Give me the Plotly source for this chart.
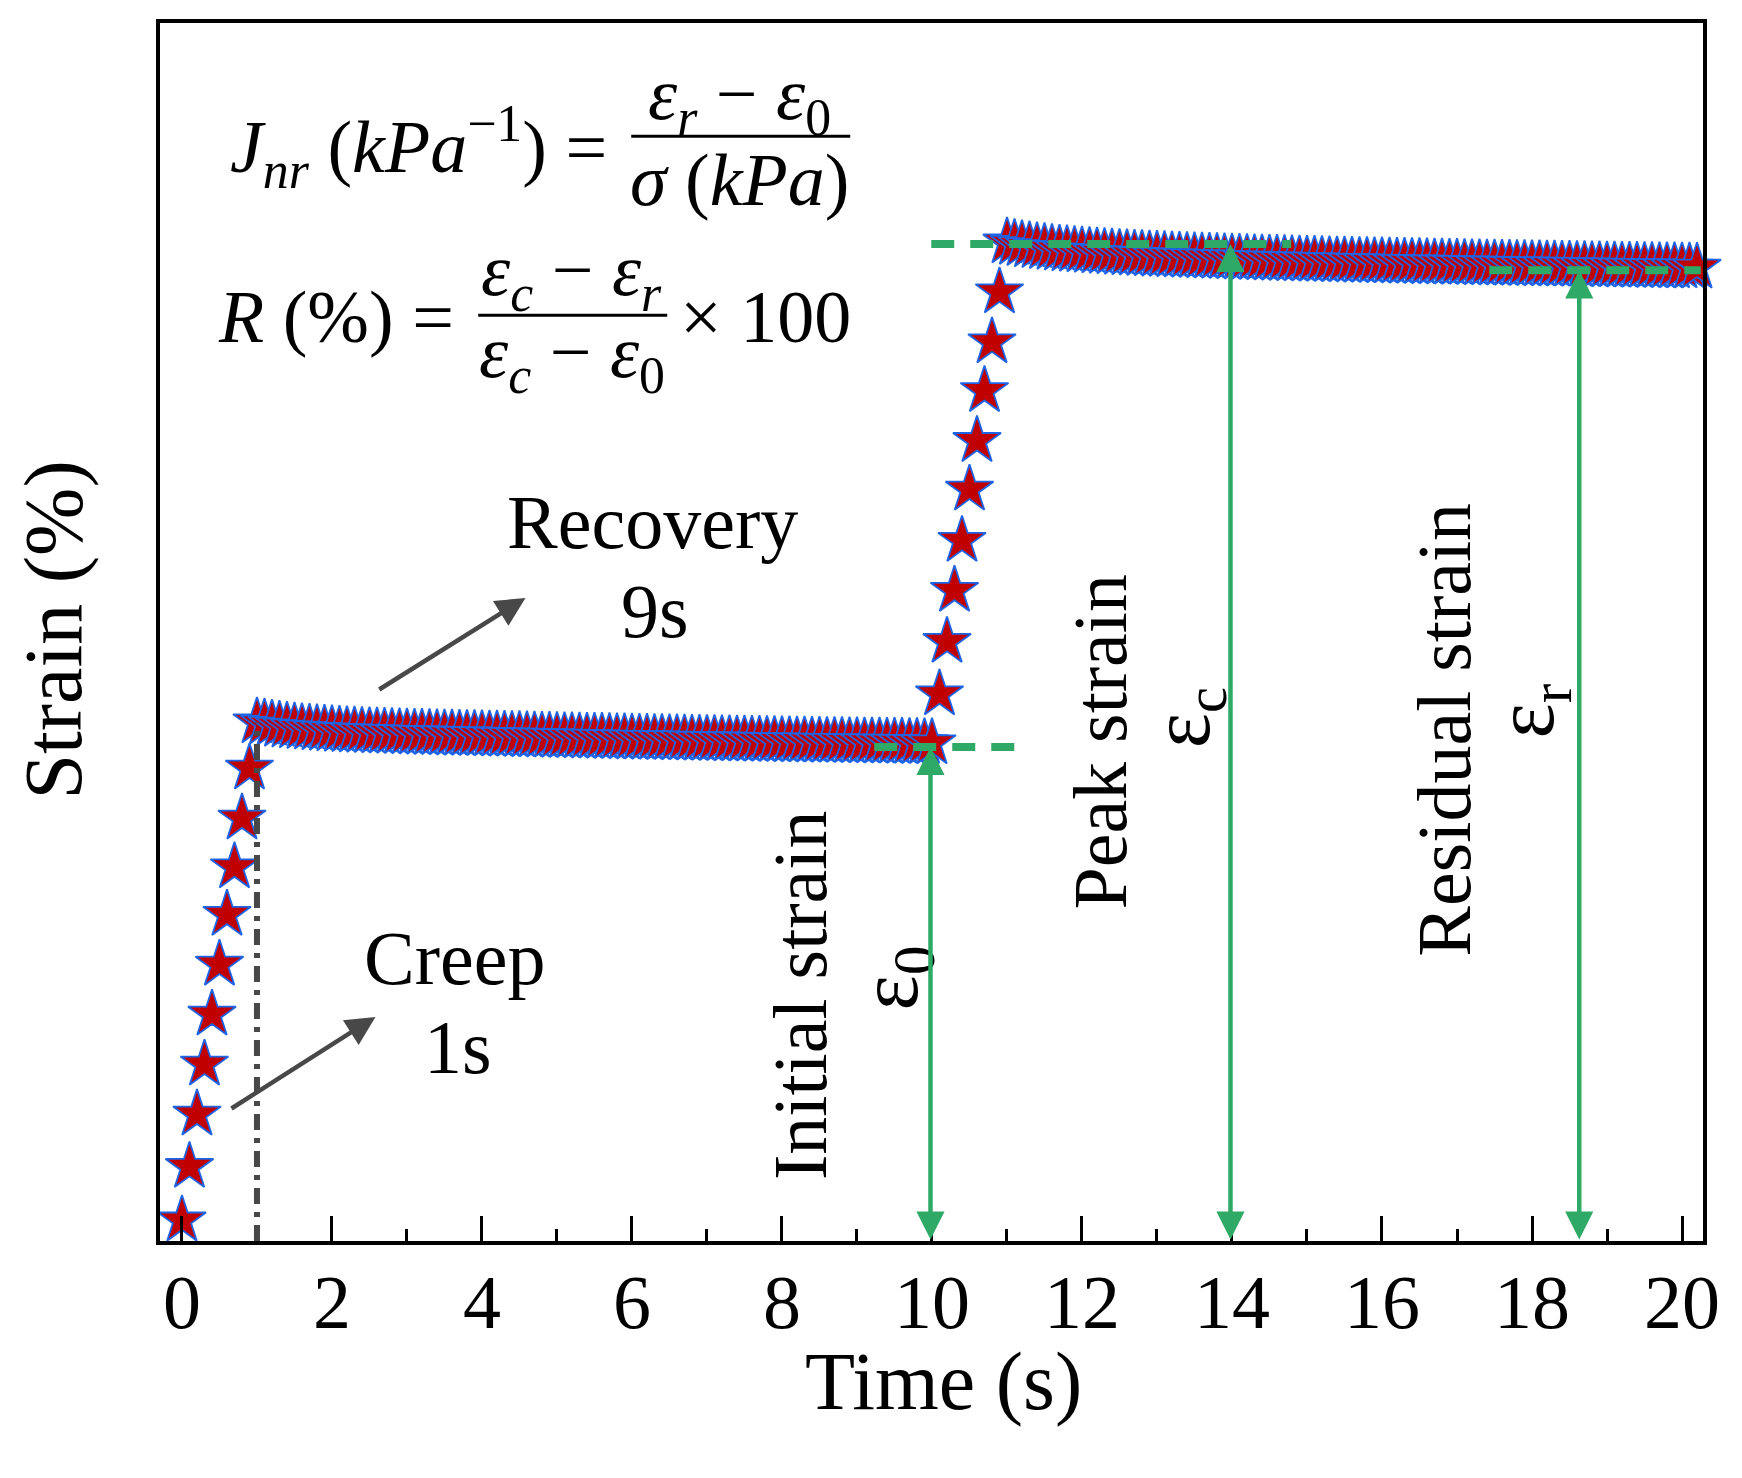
import plotly.graph_objects as go

# ---------------- data ----------------
time_s = [
    0.0, 0.1, 0.2, 0.3, 0.4, 0.5, 0.6, 0.7, 0.8, 0.9, 1.0,
    1.1, 1.2, 1.3, 1.4, 1.5, 1.6, 1.7, 1.8, 1.9, 2.0,
    2.1, 2.2, 2.3, 2.4, 2.5, 2.6, 2.7, 2.8, 2.9, 3.0,
    3.1, 3.2, 3.3, 3.4, 3.5, 3.6, 3.7, 3.8, 3.9, 4.0,
    4.1, 4.2, 4.3, 4.4, 4.5, 4.6, 4.7, 4.8, 4.9, 5.0,
    5.1, 5.2, 5.3, 5.4, 5.5, 5.6, 5.7, 5.8, 5.9, 6.0,
    6.1, 6.2, 6.3, 6.4, 6.5, 6.6, 6.7, 6.8, 6.9, 7.0,
    7.1, 7.2, 7.3, 7.4, 7.5, 7.6, 7.7, 7.8, 7.9, 8.0,
    8.1, 8.2, 8.3, 8.4, 8.5, 8.6, 8.7, 8.8, 8.9, 9.0,
    9.1, 9.2, 9.3, 9.4, 9.5, 9.6, 9.7, 9.8, 9.9, 10.0,
    10.1, 10.2, 10.3, 10.4, 10.5, 10.6, 10.7, 10.8, 10.9, 11.0,
    11.1, 11.2, 11.3, 11.4, 11.5, 11.6, 11.7, 11.8, 11.9, 12.0,
    12.1, 12.2, 12.3, 12.4, 12.5, 12.6, 12.7, 12.8, 12.9, 13.0,
    13.1, 13.2, 13.3, 13.4, 13.5, 13.6, 13.7, 13.8, 13.9, 14.0,
    14.1, 14.2, 14.3, 14.4, 14.5, 14.6, 14.7, 14.8, 14.9, 15.0,
    15.1, 15.2, 15.3, 15.4, 15.5, 15.6, 15.7, 15.8, 15.9, 16.0,
    16.1, 16.2, 16.3, 16.4, 16.5, 16.6, 16.7, 16.8, 16.9, 17.0,
    17.1, 17.2, 17.3, 17.4, 17.5, 17.6, 17.7, 17.8, 17.9, 18.0,
    18.1, 18.2, 18.3, 18.4, 18.5, 18.6, 18.7, 18.8, 18.9, 19.0,
    19.1, 19.2, 19.3, 19.4, 19.5, 19.6, 19.7, 19.8, 19.9, 20.0,
    20.1, 20.2,
]

creep_1 = [0.017, 0.061, 0.104, 0.145, 0.186, 0.227, 0.268, 0.307, 0.347, 0.388, 0.426]
recovery_1 = [
    0.4250, 0.4240, 0.4232, 0.4225, 0.4219, 0.4213, 0.4208, 0.4203, 0.4199, 0.4195,
    0.4191, 0.4188, 0.4185, 0.4182, 0.4179, 0.4177, 0.4175, 0.4173, 0.4171, 0.4169,
    0.4167, 0.4166, 0.4164, 0.4163, 0.4161, 0.4160, 0.4158, 0.4157, 0.4156, 0.4155,
    0.4153, 0.4152, 0.4150, 0.4149, 0.4148, 0.4146, 0.4145, 0.4143, 0.4142, 0.4140,
    0.4139, 0.4138, 0.4136, 0.4135, 0.4134, 0.4133, 0.4131, 0.4130, 0.4129, 0.4127,
    0.4126, 0.4125, 0.4124, 0.4123, 0.4122, 0.4121, 0.4120, 0.4118, 0.4117, 0.4116,
    0.4115, 0.4114, 0.4113, 0.4112, 0.4111, 0.4110, 0.4109, 0.4108, 0.4107, 0.4106,
    0.4105, 0.4104, 0.4103, 0.4102, 0.4101, 0.4100, 0.4099, 0.4099, 0.4098, 0.4097,
    0.4096, 0.4095, 0.4094, 0.4093, 0.4093, 0.4092, 0.4091, 0.4090, 0.4089, 0.4088,
]
creep_2 = [0.449, 0.492, 0.534, 0.575, 0.617, 0.657, 0.698, 0.738, 0.779, 0.820]
recovery_2 = [
    0.8188, 0.8178, 0.8169, 0.8161, 0.8154, 0.8147, 0.8141, 0.8136, 0.8131, 0.8126,
    0.8122, 0.8118, 0.8114, 0.8110, 0.8106, 0.8103, 0.8100, 0.8097, 0.8094, 0.8091,
    0.8089, 0.8086, 0.8084, 0.8082, 0.8079, 0.8077, 0.8075, 0.8073, 0.8071, 0.8069,
    0.8067, 0.8065, 0.8063, 0.8061, 0.8059, 0.8058, 0.8056, 0.8054, 0.8053, 0.8051,
    0.8050, 0.8048, 0.8047, 0.8045, 0.8044, 0.8042, 0.8041, 0.8040, 0.8038, 0.8037,
    0.8036, 0.8034, 0.8033, 0.8032, 0.8031, 0.8029, 0.8028, 0.8027, 0.8026, 0.8025,
    0.8024, 0.8022, 0.8021, 0.8020, 0.8019, 0.8018, 0.8017, 0.8016, 0.8015, 0.8014,
    0.8013, 0.8012, 0.8011, 0.8010, 0.8009, 0.8008, 0.8007, 0.8006, 0.8005, 0.8004,
    0.8003, 0.8002, 0.8001, 0.8000, 0.7999, 0.7998, 0.7997, 0.7997, 0.7996, 0.7995,
    0.7994, 0.7993,
]
strain = creep_1 + recovery_1 + creep_2 + recovery_2

x_tick_vals = [0, 2, 4, 6, 8, 10, 12, 14, 16, 18, 20]
x_tick_text = ["0", "2", "4", "6", "8", "10", "12", "14", "16", "18", "20"]

# reference levels / annotation anchors (time, strain)
creep_end_t = 1.0
creep_end_level = 0.426
eps0_level = 0.4056
epsc_level = 0.8186
epsr_level = 0.797
eps0_t = 9.98
epsc_t = 13.98
epsr_t = 18.63

# ---------------- styles ----------------
SERIF = "Liberation Serif, Times New Roman, serif"
RED = "#c00000"
BLUE = "#1e64e6"
GREEN = "#2eaa66"
GRAY = "#484848"

fig = go.Figure()
fig.add_trace(go.Scatter(
    x=time_s, y=strain, mode="markers", cliponaxis=False,
    marker=dict(symbol="star", size=36, color=RED, line=dict(color=BLUE, width=1.8)),
    showlegend=False, hoverinfo="skip",
))

shapes = []
# dash-dot line marking the end of the creep phase
shapes.append(dict(type="line", xref="x", yref="y", x0=creep_end_t, x1=creep_end_t,
                   y0=0, y1=creep_end_level,
                   line=dict(color=GRAY, width=6, dash="16px,8px,5px,8px")))
# green dashed reference levels
shapes.append(dict(type="line", xref="x", yref="y", x0=9.23, x1=11.2, y0=eps0_level, y1=eps0_level,
                   line=dict(color=GREEN, width=8, dash="23px,16px")))
shapes.append(dict(type="line", xref="x", yref="y", x0=9.99, x1=14.79, y0=epsc_level, y1=epsc_level,
                   line=dict(color=GREEN, width=8, dash="23px,16px")))
shapes.append(dict(type="line", xref="x", yref="y", x0=17.43, x1=20.25, y0=epsr_level, y1=epsr_level,
                   line=dict(color=GREEN, width=8, dash="23px,16px")))
# fraction bars
shapes.append(dict(type="line", xref="x", yref="y", x0=5.99, x1=8.91, y0=0.907, y1=0.907,
                   line=dict(color="black", width=3)))
shapes.append(dict(type="line", xref="x", yref="y", x0=3.95, x1=6.47, y0=0.760, y1=0.760,
                   line=dict(color="black", width=3)))

ann = []
def txt(x, y, s, size=76, angle=0, xanchor="center", xref="x", yref="y"):
    ann.append(dict(x=x, y=y, xref=xref, yref=yref, text=s, showarrow=False,
                    textangle=angle, xanchor=xanchor, yanchor="middle",
                    font=dict(family=SERIF, size=size, color="black")))

# axis titles
txt(10.16, -0.115, "Time (s)", size=82, yref="paper")
txt(-0.069, 0.5016, "Strain (%)", size=82, angle=-90, xref="paper", yref="paper")

# phase labels
txt(6.28, 0.590, "Recovery")
txt(6.31, 0.517, "9s")
txt(3.64, 0.232, "Creep")
txt(3.68, 0.159, "1s")

# rotated strain labels
txt(8.24, 0.202, "Initial strain", angle=-90)
txt(9.50, 0.216, "ε<sub>0</sub>", size=84, angle=-90)
txt(12.24, 0.410, "Peak strain", angle=-90)
txt(13.40, 0.430, "ε<sub>c</sub>", size=84, angle=-90)
txt(16.83, 0.420, "Residual strain", angle=-90)
txt(17.99, 0.435, "ε<sub>r</sub>", size=84, angle=-90)

# formulas
FS = 74
txt(5.70, 0.898, "<i>J</i><sub><i>nr</i></sub> (<i>kPa</i><sup>−1</sup>) =", size=FS, xanchor="right")
txt(7.43, 0.937, "<i>ε</i><sub><i>r</i></sub> − <i>ε</i><sub>0</sub>", size=FS)
txt(7.43, 0.871, "<i>σ</i> (<i>kPa</i>)", size=FS)
txt(3.65, 0.759, "<i>R</i> (%) =", size=FS, xanchor="right")
txt(5.20, 0.793, "<i>ε</i><sub><i>c</i></sub> − <i>ε</i><sub><i>r</i></sub>", size=FS)
txt(5.20, 0.725, "<i>ε</i><sub><i>c</i></sub> − <i>ε</i><sub>0</sub>", size=FS)
txt(6.62, 0.759, "× 100", size=FS, xanchor="left")

# gray arrows
for (tx, ty, hx, hy) in [(0.64, 0.108, 2.58, 0.184), (2.61, 0.452, 4.58, 0.528)]:
    ann.append(dict(x=hx, y=hy, ax=tx, ay=ty, xref="x", yref="y", axref="x", ayref="y",
                    text="", showarrow=True, arrowhead=2, arrowsize=1.3, arrowwidth=4.5,
                    arrowcolor=GRAY))

# green double-headed arrows
for (t, lvl) in [(eps0_t, eps0_level), (epsc_t, epsc_level), (epsr_t, epsr_level)]:
    ann.append(dict(x=t, y=lvl, ax=t, ay=0.0, xref="x", yref="y", axref="x", ayref="y",
                    text="", showarrow=True, arrowside="end+start",
                    arrowhead=2, arrowsize=1.25, startarrowhead=2, startarrowsize=1.25,
                    arrowwidth=4.5, arrowcolor=GREEN))

# the page body adds an 8 px offset, so the figure is 16 px smaller than the window
fig.update_layout(
    width=1726, height=1462,
    margin=dict(l=152, r=31, t=15, b=229),
    paper_bgcolor="white", plot_bgcolor="white",
    shapes=shapes, annotations=ann,
    showlegend=False,
)
fig.update_xaxes(
    range=[-0.293, 20.28], tickvals=x_tick_vals, ticktext=x_tick_text,
    ticks="inside", ticklen=25, tickwidth=3, tickcolor="black",
    minor=dict(dtick=1, tick0=0, ticks="inside", ticklen=12, tickwidth=3, tickcolor="black"),
    showline=True, linewidth=4, linecolor="black", mirror=True,
    showgrid=False, zeroline=False,
    tickfont=dict(family=SERIF, size=76, color="black"),
    ticklabelstandoff=-8,
)
fig.update_yaxes(
    range=[0, 1], showticklabels=False, ticks="",
    showline=True, linewidth=4, linecolor="black", mirror=True,
    showgrid=False, zeroline=False,
)

fig.write_html("out.html")
